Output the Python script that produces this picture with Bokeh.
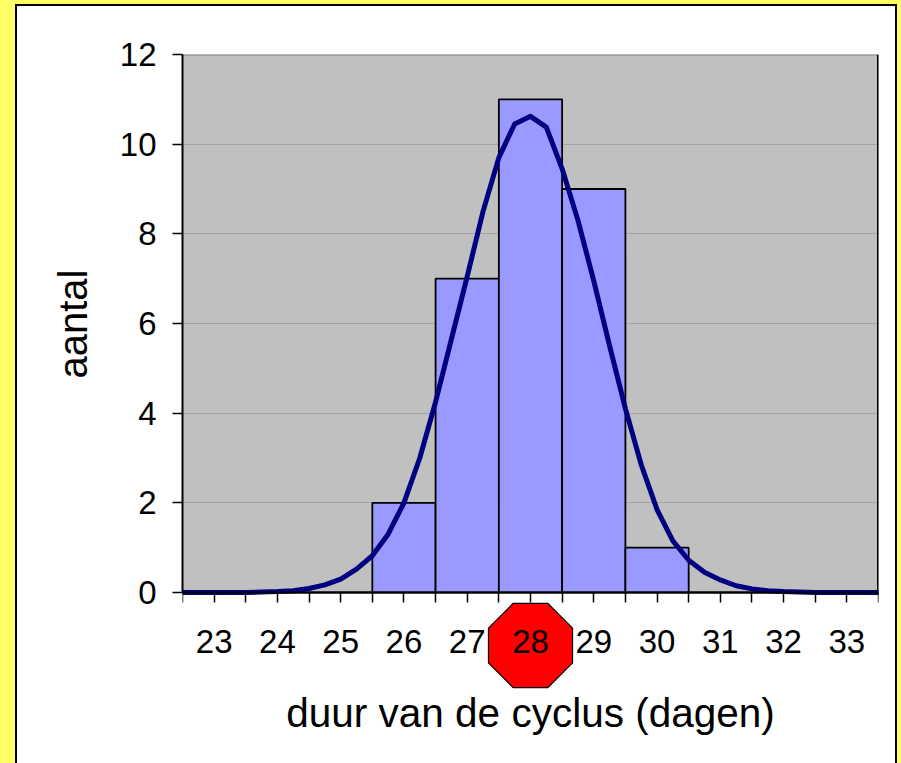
import math
from bokeh.plotting import figure
from bokeh.models import FixedTicker, Title
from bokeh.embed import file_html
from bokeh.resources import INLINE

# ---- data ----
days = [23, 24, 25, 26, 27, 28, 29, 30, 31, 32, 33]
counts = [0, 0, 0, 2, 7, 11, 9, 1, 0, 0, 0]
y_ticks = [0, 2, 4, 6, 8, 10, 12]
curve_x = [22.5, 22.75, 23, 23.25, 23.5, 23.75, 24, 24.25, 24.5, 24.75,
           25, 25.25, 25.5, 25.75, 26, 26.25, 26.5, 26.75, 27, 27.25,
           27.5, 27.75, 28, 28.25, 28.5, 28.75, 29, 29.25, 29.5, 29.75,
           30, 30.25, 30.5, 30.75, 31, 31.25, 31.5, 31.75, 32, 32.25,
           32.5, 32.75, 33, 33.25, 33.5]
curve_y = [0, 0, 0, 0, 0, 0.01, 0.02, 0.04, 0.09, 0.17,
           0.3, 0.52, 0.82, 1.3, 2.0, 3.0, 4.25, 5.65, 7.05, 8.5,
           9.7, 10.45, 10.62, 10.38, 9.45, 8.3, 6.95, 5.5, 4.1, 2.85,
           1.85, 1.15, 0.72, 0.45, 0.28, 0.15, 0.08, 0.04, 0.02, 0.01,
           0, 0, 0, 0, 0]
highlight_day = 28
x_title = "duur van de cyclus (dagen)"
y_title = "aantal"

FONT = "Liberation Sans"

# ---- layout (pixels) ----
W, H = 878, 757
B_LEFT, B_TOP, B_RIGHT, B_BOTTOM = 165, 48, 17, 5
AXIS_Y_PX = 586                       # where y = 0 sits (figure pixels)
y_top = y_ticks[-1]
px_per_y = (AXIS_Y_PX - B_TOP) / y_top
frame_h = H - B_TOP - B_BOTTOM
y_bottom = y_top - frame_h / px_per_y  # frame extends below the axis for the badge
x_lo, x_hi = days[0] - 0.5, days[-1] + 0.5
px_per_x = (W - B_LEFT - B_RIGHT) / (x_hi - x_lo)

p = figure(width=W, height=H,
           x_range=(x_lo, x_hi), y_range=(y_bottom, y_top),
           output_backend="svg", toolbar_location=None,
           min_border_left=B_LEFT, min_border_top=B_TOP,
           min_border_right=B_RIGHT, min_border_bottom=B_BOTTOM)

p.background_fill_color = "white"
p.border_fill_color = "white"
p.outline_line_color = None

# grey plot area (0..12)
p.quad(left=x_lo, right=x_hi, bottom=0, top=y_top, fill_color="#c0c0c0",
       line_color=None, level="image")
p.segment(x0=x_lo, y0=y_top, x1=x_hi, y1=y_top, line_color="#808080", line_width=2)
p.segment(x0=x_hi, y0=0, x1=x_hi, y1=y_top, line_color="black", line_width=3)

# bars
p.vbar(x=days, top=counts, width=1.0, fill_color="#9999ff",
       line_color="black", line_width=1.8)

# fitted curve
p.line(curve_x, curve_y, line_color="#000080", line_width=5,
       line_join="round", line_cap="round")

# red octagon behind the "28" tick label
cy = -53 / px_per_y
R = 45.5
angs = [math.radians(22.5 + 45 * k) for k in range(8)]
p.patch([highlight_day + R / px_per_x * math.cos(a) for a in angs],
        [cy + R / px_per_y * math.sin(a) for a in angs],
        fill_color="red", line_color="black", line_width=1.2)

# grid
p.xgrid.visible = False
p.ygrid.ticker = FixedTicker(ticks=y_ticks)
p.ygrid.grid_line_color = "#a4a4a4"
p.ygrid.grid_line_width = 1

# x axis (sits at y = 0 inside the frame)
xa = p.xaxis[0]
xa.fixed_location = 0
xa.ticker = FixedTicker(ticks=days, minor_ticks=[d - 0.5 for d in days] + [x_hi])
xa.axis_line_color = "black"
xa.axis_line_width = 2
xa.major_tick_in = 0
xa.major_tick_out = 10
xa.minor_tick_in = 0
xa.minor_tick_out = 10
xa.major_tick_line_width = 1.5
xa.minor_tick_line_width = 1.5
xa.minor_tick_line_color = "black"
xa.major_label_text_font = FONT
xa.major_label_text_font_size = "33px"
xa.major_label_text_color = "black"
xa.major_label_standoff = 27
xa.axis_label = x_title
xa.axis_label_text_font = FONT
xa.axis_label_text_font_size = "40.5px"
xa.axis_label_text_font_style = "normal"
xa.axis_label_text_color = "black"
xa.axis_label_standoff = 34

# y axis
ya = p.yaxis[0]
ya.bounds = (0, y_top)
ya.ticker = FixedTicker(ticks=y_ticks)
ya.axis_line_color = "black"
ya.axis_line_width = 2
ya.major_tick_in = 0
ya.major_tick_out = 10
ya.minor_tick_out = 0
ya.major_tick_line_width = 1.5
ya.major_label_text_font = FONT
ya.major_label_text_font_size = "33px"
ya.major_label_text_color = "black"
ya.major_label_standoff = 16
ya.axis_label = None

# y title, placed beside the 0..12 part of the axis
p.add_layout(Title(text=y_title, align="right", offset=215, vertical_align="middle",
                   standoff=42, text_font=FONT, text_font_size="40px",
                   text_font_style="normal", text_color="black"), "left")

html = file_html(p, INLINE, title="cyclus")
css = ("<style>"
       "html{margin:0 !important;padding:0 !important;background:#ffff66 !important;"
       "height:100% !important;overflow:hidden !important;}"
       "body{position:absolute !important;left:15px;top:4px;width:882px;height:800px !important;"
       "margin:0 !important;padding:0 !important;border:2px solid black;box-sizing:border-box !important;"
       "background:white !important;display:block !important;overflow:hidden;}"
       "</style></head>")
html = html.replace("</head>", css, 1)
open("out.html", "w").write(html)
